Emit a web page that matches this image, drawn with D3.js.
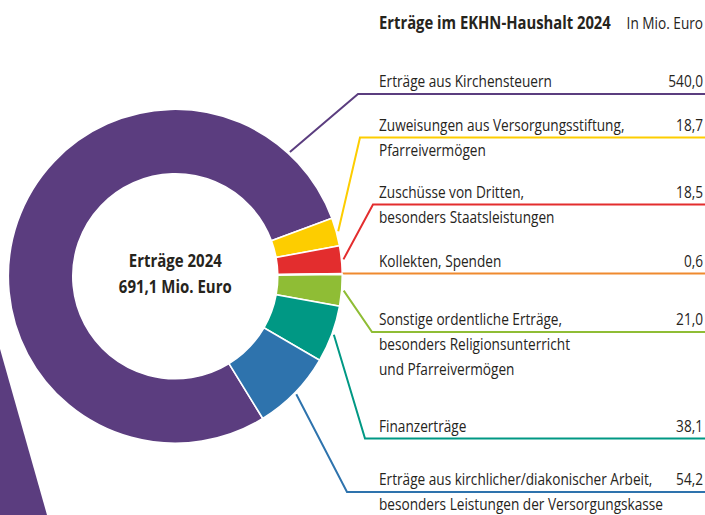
<!DOCTYPE html>
<html>
<head>
<meta charset="utf-8">
<script src="https://cdn.jsdelivr.net/npm/d3@7"></script>
<style>
  body { margin: 0; background: #fff; }
  svg text { font-family: "Open Sans", "Noto Sans", sans-serif; fill: #26241c; }
</style>
</head>
<body>
<svg></svg>
<script>
// data
let categories = [
    ['Erträge aus Kirchensteuern'],
    ['Zuweisungen aus Versorgungsstiftung,', 'Pfarreivermögen'],
    ['Zuschüsse von Dritten,', 'besonders Staatsleistungen'],
    ['Kollekten, Spenden'],
    ['Sonstige ordentliche Erträge,', 'besonders Religionsunterricht', 'und Pfarreivermögen'],
    ['Finanzerträge'],
    ['Erträge aus kirchlicher/diakonischer Arbeit,', 'besonders Leistungen der Versorgungskasse']
]
let values = [540.0, 18.7, 18.5, 0.6, 21.0, 38.1, 54.2]
let valueLabels = ['540,0', '18,7', '18,5', '0,6', '21,0', '38,1', '54,2']
let colors = ['#5b3d7f', '#fdcd00', '#e32d2e', '#ef8a2f', '#8fbd35', '#009884', '#2e73ad']
let title = 'Erträge im EKHN-Haushalt 2024'
let unit = 'In Mio. Euro'
let centerLines = ['Erträge 2024', '691,1 Mio. Euro']

// layout
let width = 705
let height = 515
let cx = 175.3, cy = 276.3
let outer = 167, inner = 102.5
let startDeg = 148.4
let labelX = 379, valueX = 703
let underlineY = [94, 137.5, 204.5, 273.5, 332, 438.5, 492]
let kneeX = [358, 360, 373, 344, 372, 365, 347]
let lineHeight = 25

let svg = d3.select('svg')
            .attr('width', width)
            .attr('height', height)

// condensed look: squeeze text horizontally so a sample string hits a target width
function squeeze(size, weight, sample, target) {
    let t = svg.append('text').attr('font-size', size).attr('font-weight', weight).text(sample)
    let w = t.node().getComputedTextLength()
    t.remove()
    return target / w
}
let kLabel = squeeze(16.5, 'normal', categories[0][0], 173)
let kTitle = squeeze(18, 'bold', title, 232)
let kCenter = squeeze(17, 'bold', centerLines[1], 113)

function addText(parent, x, y, str, size, weight, k, anchor) {
    return parent.append('text')
        .attr('transform', `translate(${x},${y}) scale(${k},1)`)
        .attr('font-size', size)
        .attr('font-weight', weight)
        .attr('text-anchor', anchor)
        .text(str)
}

// decorative stripe bottom left
svg.append('path')
    .attr('d', 'M0,349 L47,515 L0,515 Z')
    .attr('fill', colors[0])

let g = svg.append('g').attr('transform', `translate(${cx},${cy})`)

let rad = d => d * Math.PI / 180
let pie = d3.pie()
            .sort(null)
            .value(d => d)
            .startAngle(rad(startDeg))
            .endAngle(rad(startDeg) + 2 * Math.PI)

let arcs = pie(values)

let arc = d3.arc()
            .outerRadius(outer)
            .innerRadius(inner)

g.selectAll('path.slice')
    .data(arcs)
    .enter()
    .append('path')
    .attr('class', 'slice')
    .attr('d', arc)
    .attr('fill', (d, i) => colors[i])
    .attr('stroke', '#fff')
    .attr('stroke-width', 1.6)

// leader lines
let leaderAngle = (d, i) => i == 0 ? rad(42.7) : (d.startAngle + d.endAngle) / 2
svg.selectAll('path.leader')
    .data(arcs)
    .enter()
    .append('path')
    .attr('class', 'leader')
    .attr('fill', 'none')
    .attr('stroke', (d, i) => colors[i])
    .attr('stroke-width', 2)
    .attr('d', (d, i) => {
        let a = leaderAngle(d, i)
        let x0 = cx + (outer + 2) * Math.sin(a)
        let y0 = cy - (outer + 2) * Math.cos(a)
        return d3.line()([[x0, y0], [kneeX[i], underlineY[i]], [width, underlineY[i]]])
    })

// labels
categories.forEach((lines, i) => {
    let base = underlineY[i] - 6.8
    let grp = svg.append('g').attr('class', 'label')
    lines.forEach((line, j) => addText(grp, labelX, base + j * lineHeight, line, 16.5, 'normal', kLabel, 'start'))
    addText(grp, valueX, base, valueLabels[i], 16.5, 'normal', kLabel, 'end')
})

// title
addText(svg, labelX, 28.5, title, 18, 'bold', kTitle, 'start')
addText(svg, valueX, 28.5, unit, 16.5, 'normal', kLabel, 'end')

// center text
centerLines.forEach((line, i) => addText(g, 0, -9 + i * 26, line, 17, 'bold', kCenter, 'middle'))
</script>
</body>
</html>
